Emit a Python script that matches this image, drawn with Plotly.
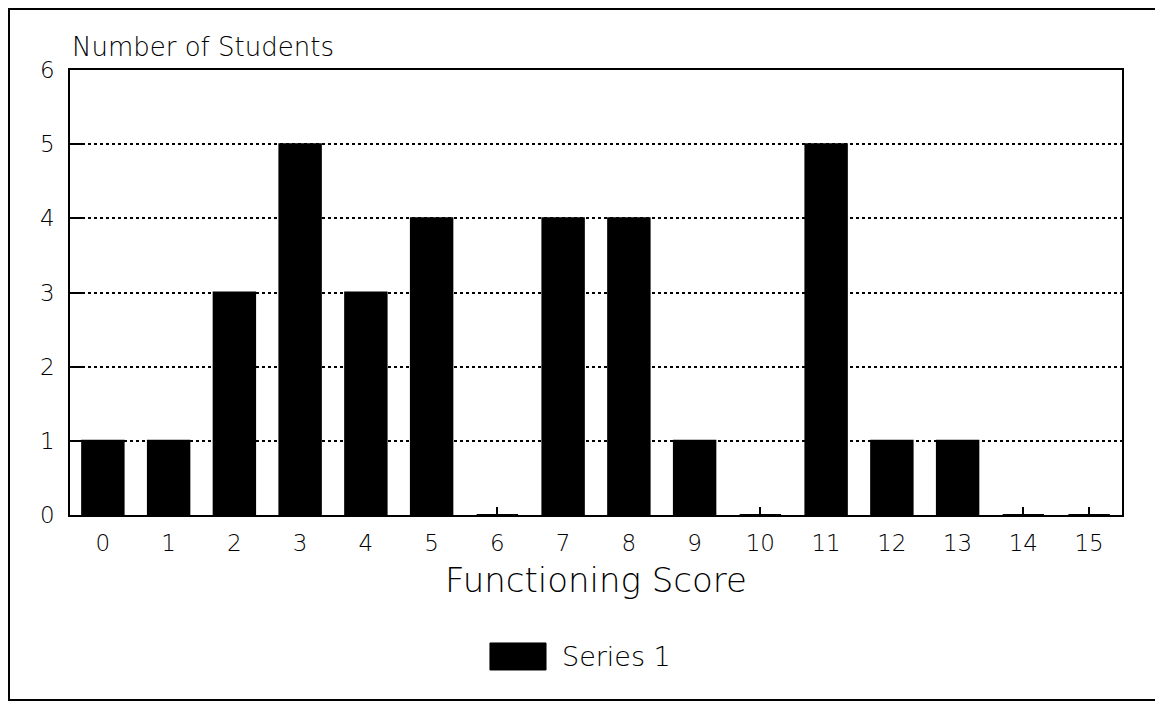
import plotly.graph_objects as go

scores = [str(i) for i in range(16)]
students = [1, 1, 3, 5, 3, 4, 0, 4, 4, 1, 0, 5, 1, 1, 0, 0]
series_name = "Series 1"

FONT = "DejaVu Sans ExtraLight, DejaVu Sans Light, DejaVu Sans"

fig = go.Figure()
fig.add_trace(go.Bar(
    x=scores, y=students, name=series_name,
    marker=dict(color="black", line=dict(color="black", width=2)),
    width=0.63, showlegend=False,
))

fig.update_layout(
    width=1155, height=697,
    margin=dict(l=62, r=41, t=62, b=190),
    paper_bgcolor="white", plot_bgcolor="white",
    font=dict(family=FONT, color="black", size=23),
    xaxis=dict(
        type="category", range=[-0.5, 15.5],
        showline=True, linecolor="black", linewidth=2, mirror=True,
        showgrid=False, ticks="inside", ticklen=8, tickcolor="black", tickwidth=1.5,
        tickfont=dict(size=23), ticklabelstandoff=6,
        title=dict(text="Functioning Score", font=dict(size=34), standoff=14),
    ),
    yaxis=dict(
        range=[0, 6], dtick=1, tick0=0,
        showline=True, linecolor="black", linewidth=1.5, mirror=True,
        showgrid=True, gridcolor="black", griddash="dot", gridwidth=1.5,
        zeroline=False, ticks="inside", ticklen=12, tickcolor="black", tickwidth=1.5,
        tickfont=dict(size=23), ticklabelstandoff=9,
    ),
    annotations=[
        dict(
            text="Number of Students", xref="paper", yref="paper",
            x=0.0, y=1.052, xanchor="left", yanchor="middle",
            showarrow=False, font=dict(size=26),
        ),
        dict(
            text=series_name, xref="paper", yref="paper",
            x=0.4658, y=-0.319, xanchor="left", yanchor="middle",
            showarrow=False, font=dict(size=27),
        ),
    ],
    shapes=[
        dict(
            type="rect", xref="paper", yref="paper",
            x0=-0.058, x1=1.0342, y0=-0.4157, y1=1.137,
            line=dict(color="black", width=2), layer="below",
        ),
        dict(
            type="rect", xref="paper", yref="paper",
            x0=0.3992, x1=0.4525, y0=-0.3483, y1=-0.2876,
            line=dict(color="black", width=1), fillcolor="black",
        ),
    ],
)

fig.write_html("out.html")
